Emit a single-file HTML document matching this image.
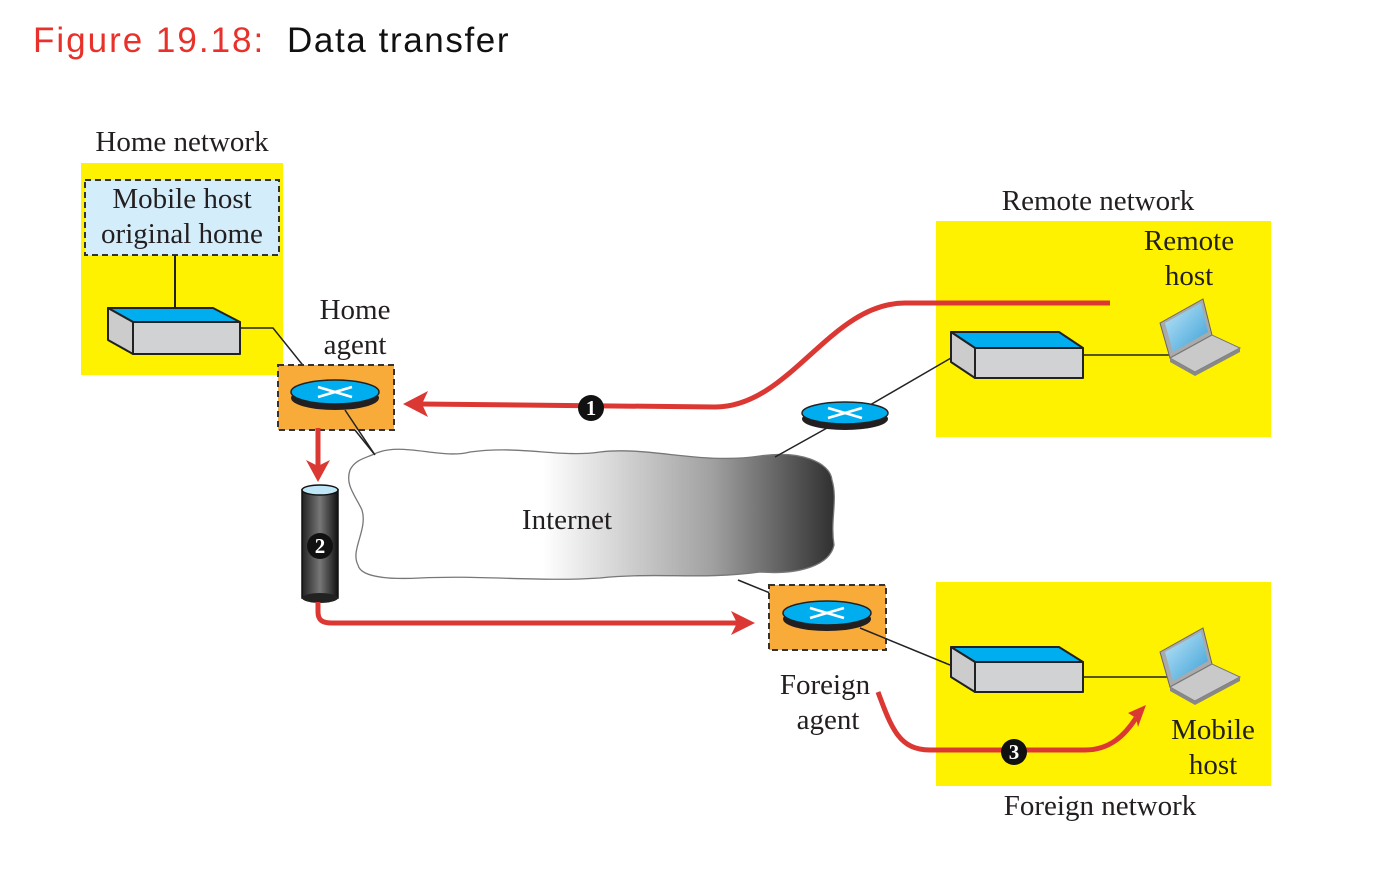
<!DOCTYPE html>
<html><head><style>
body{margin:0;background:#fff;}
svg{display:block}
.s{font-family:"Liberation Serif",serif;font-size:29px;fill:#231f20}
</style></head><body>
<svg width="1374" height="870" viewBox="0 0 1374 870" xmlns="http://www.w3.org/2000/svg">
<defs>
<linearGradient id="cg" x1="0" x2="1" y1="0" y2="0">
<stop offset="0" stop-color="#fff"/><stop offset="0.4" stop-color="#fff"/><stop offset="0.75" stop-color="#a0a0a0"/><stop offset="1" stop-color="#303030"/>
</linearGradient>
<linearGradient id="cyl" x1="0" x2="1"><stop offset="0" stop-color="#222"/><stop offset="0.5" stop-color="#777"/><stop offset="1" stop-color="#111"/></linearGradient>
<linearGradient id="scr" x1="0" x2="1" y1="0" y2="1"><stop offset="0" stop-color="#bfe6f7"/><stop offset="1" stop-color="#3aa0d8"/></linearGradient>
<g id="lap">
<polygon points="0,24 43,0 52,36 10,59" fill="#aaa" stroke="#666"/>
<polygon points="5,24 41,4 48,33 13,53" fill="url(#scr)"/>
<polygon points="10,59 52,36 80,49 35,73" fill="#c9c9c9" stroke="#777"/>
<polygon points="35,73 80,49 80,53 35,77 10,63 10,59" fill="#888"/>
</g>
</defs>
<text x="33" y="52" font-family="Liberation Sans,sans-serif" font-size="35" letter-spacing="2" fill="#e8312a">Figure 19.18:</text>
<text x="287" y="52" font-family="Liberation Sans,sans-serif" font-size="35" letter-spacing="1.6" fill="#111">Data transfer</text>

<rect x="81" y="163" width="202" height="212" fill="#fff200"/>
<rect x="936" y="221" width="335" height="216" fill="#fff200"/>
<rect x="936" y="582" width="335" height="204" fill="#fff200"/>

<text class="s" x="182" y="151" text-anchor="middle">Home network</text>
<rect x="85" y="180" width="194" height="75" fill="#d4edfa" stroke="#333" stroke-width="2" stroke-dasharray="6,4"/>
<text class="s" x="182" y="208" text-anchor="middle">Mobile host</text>
<text class="s" x="182" y="243" text-anchor="middle">original home</text>
<line x1="175" y1="255" x2="175" y2="316" stroke="#222" stroke-width="2"/>
<g stroke="#222" stroke-width="2" stroke-linejoin="round">
<polygon points="108,308 213,308 240,322 133,322" fill="#00aeef"/>
<polygon points="108,308 133,322 133,354 108,340" fill="#ccc"/>
<rect x="133" y="322" width="107" height="32" fill="#d1d2d4"/>
</g>
<polyline points="240,328 273,328 375,455" fill="none" stroke="#222" stroke-width="1.5"/>

<path d="M372,455 C400,440 440,460 470,452 C520,445 560,458 600,452 C650,446 700,465 760,456 C800,450 830,462 832,480 C838,500 830,520 834,545 C830,565 800,575 760,572 C700,580 660,572 600,578 C540,582 480,575 420,578 C380,580 360,575 358,565 C350,550 368,530 362,510 C355,495 345,485 350,470 C355,460 365,458 372,455 Z" fill="url(#cg)" stroke="#777" stroke-width="1.3"/>
<text class="s" x="567" y="529" text-anchor="middle">Internet</text>

<rect x="278" y="365" width="116" height="65" fill="#f9ab3a" stroke="#333" stroke-width="2" stroke-dasharray="6,4"/>
<ellipse cx="335" cy="398" rx="44" ry="12" fill="#231f20"/>
<ellipse cx="335" cy="392" rx="44" ry="12" fill="#00aeef" stroke="#222" stroke-width="1.5"/>
<path d="M318,387 L352,397 M318,397 L352,387" stroke="#fff" stroke-width="2.5"/>
<line x1="345" y1="410" x2="375" y2="455" stroke="#222" stroke-width="1.5"/>
<text class="s" x="355" y="319" text-anchor="middle">Home</text>
<text class="s" x="355" y="354" text-anchor="middle">agent</text>

<line x1="775" y1="457" x2="845" y2="418" stroke="#222" stroke-width="1.5"/>
<line x1="870" y1="405" x2="951" y2="358" stroke="#222" stroke-width="1.5"/>
<ellipse cx="845" cy="419" rx="43" ry="11" fill="#231f20"/>
<ellipse cx="845" cy="413" rx="43" ry="11" fill="#00aeef" stroke="#222" stroke-width="1.5"/>
<path d="M828,408 L862,418 M828,418 L862,408" stroke="#fff" stroke-width="2.5"/>

<text class="s" x="1098" y="210" text-anchor="middle">Remote network</text>
<text class="s" x="1189" y="250" text-anchor="middle">Remote</text>
<text class="s" x="1189" y="285" text-anchor="middle">host</text>
<g stroke="#222" stroke-width="2" stroke-linejoin="round">
<polygon points="951,332 1059,332 1083,348 975,348" fill="#00aeef"/>
<polygon points="951,332 975,348 975,378 951,362" fill="#ccc"/>
<rect x="975" y="348" width="108" height="30" fill="#d1d2d4"/>
</g>
<line x1="1083" y1="355" x2="1172" y2="355" stroke="#222" stroke-width="1.5"/>
<use href="#lap" x="1160" y="299"/>

<line x1="738" y1="580" x2="770" y2="593" stroke="#222" stroke-width="1.5"/>
<rect x="769" y="585" width="117" height="65" fill="#f9ab3a" stroke="#333" stroke-width="2" stroke-dasharray="6,4"/>
<ellipse cx="827" cy="619" rx="44" ry="12" fill="#231f20"/>
<ellipse cx="827" cy="613" rx="44" ry="12" fill="#00aeef" stroke="#222" stroke-width="1.5"/>
<path d="M810,608 L844,618 M810,618 L844,608" stroke="#fff" stroke-width="2.5"/>
<line x1="860" y1="628" x2="950" y2="665" stroke="#222" stroke-width="1.5"/>
<text class="s" x="825" y="694" text-anchor="middle">Foreign</text>
<text class="s" x="828" y="729" text-anchor="middle">agent</text>

<g stroke="#222" stroke-width="2" stroke-linejoin="round">
<polygon points="951,647 1059,647 1083,662 975,662" fill="#00aeef"/>
<polygon points="951,647 975,662 975,692 951,677" fill="#ccc"/>
<rect x="975" y="662" width="108" height="30" fill="#d1d2d4"/>
</g>
<line x1="1083" y1="677" x2="1172" y2="677" stroke="#222" stroke-width="1.5"/>
<use href="#lap" x="1160" y="628"/>
<text class="s" x="1213" y="739" text-anchor="middle">Mobile</text>
<text class="s" x="1213" y="774" text-anchor="middle">host</text>
<text class="s" x="1100" y="815" text-anchor="middle">Foreign network</text>

<rect x="302" y="490" width="36" height="108" fill="url(#cyl)" stroke="#111" stroke-width="1.5"/>
<ellipse cx="320" cy="598" rx="18" ry="5" fill="#222"/>
<ellipse cx="320" cy="490" rx="18" ry="5" fill="#bfe6f7" stroke="#111" stroke-width="1.5"/>

<g fill="none" stroke="#dc3833" stroke-width="5">
<path d="M1110,303 L905,303 C830,303 790,407 715,407 L420,404"/>
<path d="M318,428 L318,468"/>
<path d="M318,602 L318,612 C318,620 322,623 332,623 L738,623"/>
<path d="M878,692 C892,730 900,750 930,750 L1085,750 C1110,750 1125,735 1136,718"/>
</g>
<g fill="#dc3833">
<polygon points="403,404 428,391 422,404 428,417"/>
<polygon points="318,482 306,460 318,466 330,460"/>
<polygon points="755,623 731,611 737,623 731,635"/>
<polygon points="1146,705 1128,713 1136,718 1138,727"/>
</g>

<g font-family="Liberation Serif,serif" font-weight="bold" font-size="21" fill="#fff" text-anchor="middle">
<circle cx="591" cy="408" r="13" fill="#111"/><text x="591" y="415">1</text>
<circle cx="320" cy="546" r="13" fill="#111"/><text x="320" y="553">2</text>
<circle cx="1014" cy="752" r="13" fill="#111"/><text x="1014" y="759">3</text>
</g>
</svg>
</body></html>
